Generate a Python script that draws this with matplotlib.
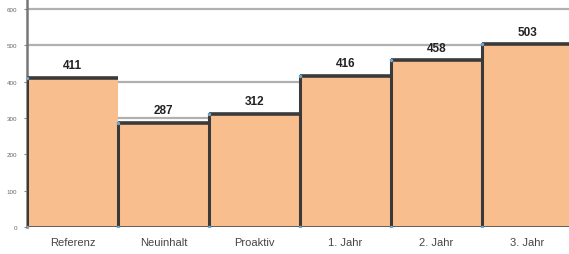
import matplotlib.pyplot as plt
import numpy as np

# chart data
categories = ["Referenz", "Neuinhalt", "Proaktiv", "1. Jahr", "2. Jahr", "3. Jahr"]
values = [411, 287, 312, 416, 458, 503]
yticks = [0, 100, 200, 300, 400, 500, 600]

plt.rcParams['font.family'] = ['Liberation Sans Narrow', 'Liberation Sans', 'DejaVu Sans']

fig = plt.figure(figsize=(5.69, 2.55), dpi=100)
ax = fig.add_axes([27 / 569, 27 / 255, 546 / 569, 228 / 255])

x = np.arange(len(categories))

# gridlines behind
for t in yticks[1:]:
    ax.axhline(t, color='#b0b0b0', lw=1.6, zorder=0)

ax.bar(x, values, width=1.0, color='#F9BE8E', edgecolor='none', zorder=2)

# step outline on top of the bars
edges = np.append(x - 0.5, x[-1] + 0.5)
for i, v in enumerate(values):
    ax.plot([edges[i], edges[i + 1]], [v, v], color='#3a3a3a', lw=2.6, zorder=3,
            solid_capstyle='butt')
    ax.plot([edges[i], edges[i]], [0, v], color='#3a3a3a', lw=2.2, zorder=3)
ax.plot([edges[0], edges[-1]], [0, 0], color='#555555', lw=2.0, zorder=3)

# small blue corner markers
corner_x = list(edges[:-1]) + list(edges[:-1])
corner_y = list(values) + [0] * len(values)
ax.scatter(corner_x, corner_y, s=6, color='#6fa8d0', zorder=4, lw=0)

for xi, v in zip(x, values):
    ax.text(xi, v + 18, str(v), ha='center', va='bottom', fontsize=8.5,
            fontweight='bold', color='#222222', zorder=5)

ax.set_xlim(-0.5, 5.5)
ax.set_ylim(0, 627)
ax.set_yticks(yticks)
ax.set_yticklabels([str(t) for t in yticks], fontsize=4.5, color='#666666')
ax.set_xticks(x)
ax.set_xticklabels(categories, fontsize=8, color='#444444')
ax.tick_params(axis='x', length=0, pad=7)
ax.tick_params(axis='y', length=2, width=0.8, color='#888888', pad=5)

for s in ['top', 'right', 'bottom']:
    ax.spines[s].set_visible(False)
ax.spines['left'].set_color('#777777')
ax.spines['left'].set_linewidth(1.8)

fig.savefig('out.png', dpi=100)
